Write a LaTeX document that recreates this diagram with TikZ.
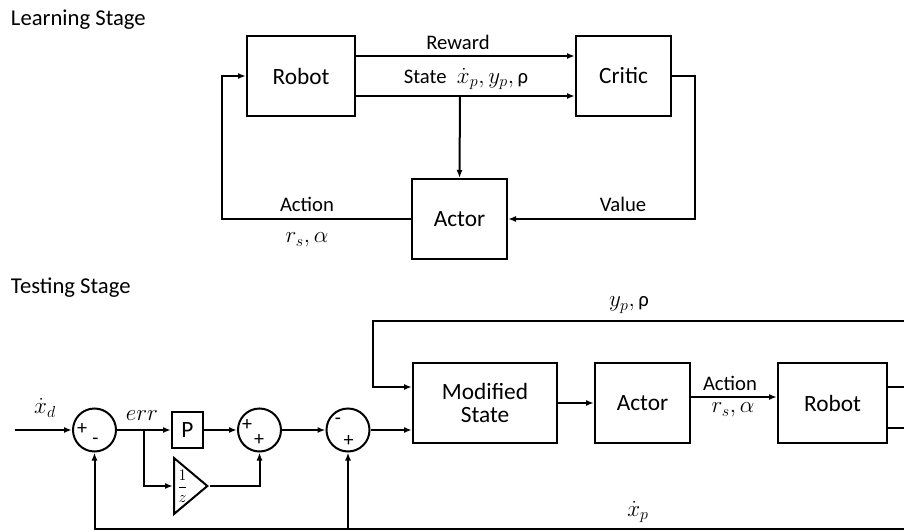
\documentclass[tikz,border=0pt]{standalone}
\usepackage{fontspec}
\setmainfont{Carlito}
\usetikzlibrary{arrows.meta,shapes.geometric}
\newcommand\mth[1]{{\fontsize{16.5}{19}\selectfont$#1$}}
\begin{document}
\begin{tikzpicture}[x=0.75pt,y=-0.75pt,line width=1.5pt,
  blk/.style={draw,minimum height=60pt,inner sep=0pt,align=center,font=\fontsize{17.5}{20}\selectfont},
  sumc/.style={draw,circle,minimum size=32.25pt,inner sep=0pt},
  lbl/.style={font=\fontsize{15.5}{18}\selectfont,inner sep=0pt},
  sgn/.style={font=\fontsize{15}{16}\selectfont,inner sep=0pt},
  arr/.style={-{Latex[length=6pt,width=4.5pt]}},
  ttl/.style={font=\fontsize{17}{20}\selectfont,anchor=west,inner sep=0pt}]
\clip (0,0) rectangle (904,532);
% ---------------- Learning stage
\node[ttl] (t1) at (10,20) {Learning Stage};
\node[blk,minimum width=81pt] (robL) at (301,76) {Robot};
\node[blk,minimum width=71.25pt] (critL) at (623.5,76) {Critic};
\node[blk,minimum width=71.25pt] (actL) at (459.5,219) {Actor};
\draw[arr] ([yshift=15pt]robL.east) -- ([yshift=15pt]critL.west);
\draw[arr] ([yshift=-15pt]robL.east) -- ([yshift=-15pt]critL.west);
\coordinate (sb) at (460,96);
\draw[arr] (sb) -- (actL.north);
\draw[arr] (critL.east) -- ++(23,0) |- (actL.east);
\draw[arr] (actL.west) -- ++(-189,0) |- (robL.west);
\node[lbl] (lrew) at (458,42) {Reward};
\node[lbl] (lstate) at (466,79) {State\enspace\mth{\dot{x}_p, y_p,}\,ρ};
\node[lbl] (lact) at (307,204) {Action};
\node[lbl] (lrs) at (307,240) {\mth{r_s, \alpha}};
\node[lbl] (lval) at (623,204) {Value};
% ---------------- Testing stage
\node[ttl] (t2) at (10,288) {Testing Stage};
\coordinate (in) at (15,430);
\node[sumc] (s1) at (94.5,430) {};
\node[draw,minimum width=23.25pt,minimum height=27pt,inner sep=0pt,font=\fontsize{17.5}{20}\selectfont] (P) at (187.5,430) {P};
\node[draw,isosceles triangle,isosceles triangle stretches,minimum height=25pt,minimum width=42pt,inner sep=0pt,anchor=lower side] (tri) at (173,486) {};
\node[font=\fontsize{12.5}{14}\selectfont,inner sep=0pt] (gain) at (182.5,486) {$\displaystyle\frac{1}{z}$};
\node[sumc] (s2) at (259.5,430) {};
\node[sumc] (s3) at (348,430) {};
\node[blk,minimum width=108pt] (ms) at (485,403) {Modified\\[-3pt]State};
\node[blk,minimum width=71.25pt] (actT) at (642.5,403) {Actor};
\node[blk,minimum width=81.75pt] (robT) at (832.5,403) {Robot};
% signs
\node[sgn] (p1) at (82,429) {+};
\node[sgn] (m1) at (95.5,441) {-};
\node[sgn] (p2a) at (247,425) {+};
\node[sgn] (p2b) at (259,440) {+};
\node[sgn] (m3) at (338,421) {-};
\node[sgn] (p3) at (348.5,441) {+};
% connectors
\draw[arr] (in) -- (s1.west);
\draw[arr] (s1.east) -- (P.west);
\coordinate (br) at (144,430);
\draw[arr] (br) |- (tri.lower side);
\draw[arr] (P.east) -- (s2.west);
\draw[arr] (tri.apex) -| (s2.south);
\draw[arr] (s2.east) -- (s3.west);
\draw[arr] (s3.east) -- (s3.east -| ms.west);
\draw[arr] (ms.east) -- (actT.west);
\draw[arr] ([yshift=4.5pt]actT.east) -- ([yshift=4.5pt]robT.west);
\draw ([yshift=12pt]robT.east) -- ++(30,0);
\draw ([yshift=-18.75pt]robT.east) -- ++(30,0);
\coordinate (topr) at (920,321);
\draw[arr] (topr) -- (373,321) |- ([yshift=12pt]ms.west);
\coordinate (botr) at (920,529);
\draw[arr] (botr) -- (94.5,529) -- (s1.south);
\coordinate (bb) at (348,529);
\draw[arr] (bb) -- (s3.south);
% labels
\node[lbl] (lxd) at (45,408) {\mth{\dot{x}_d}};
\node[lbl] (lerr) at (142,416) {\mth{err}};
\node[lbl] (lyp) at (629,305) {\mth{y_p,}\,ρ};
\node[lbl] (lxp) at (638,512) {\mth{\dot{x}_p}};
\node[lbl] (lact2) at (730,383) {Action};
\node[lbl] (lrs2) at (733,410) {\mth{r_s, \alpha}};
\end{tikzpicture}
\end{document}
